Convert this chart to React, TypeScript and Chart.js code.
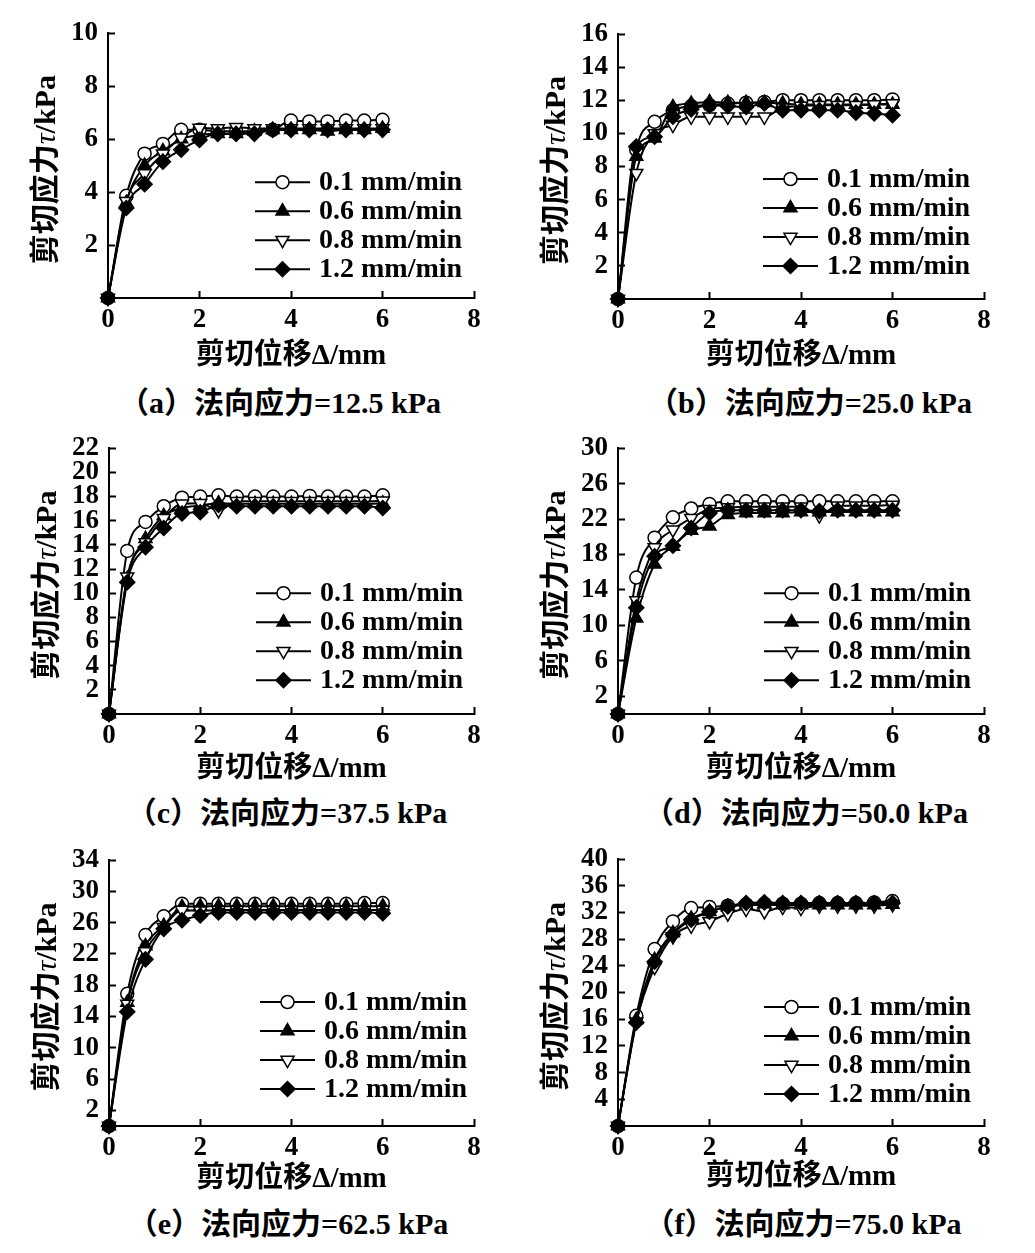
import React, { useEffect, useRef } from "react";
import { Chart, registerables } from "chart.js";
import { drawPoint } from "chart.js/helpers";

Chart.register(...registerables);

// ---------------- data ----------------
const displacement = [0, 0.4, 0.8, 1.2, 1.6, 2.0, 2.4, 2.8, 3.2, 3.6, 4.0, 4.4, 4.8, 5.2, 5.6, 6.0];
const rateLabels = ["0.1 mm/min", "0.6 mm/min", "0.8 mm/min", "1.2 mm/min"];
const xTicks = [0, 2, 4, 6, 8];

const yTicksA = [2, 4, 6, 8, 10];
const yTicksB = [2, 4, 6, 8, 10, 12, 14, 16];
const yTicksC = [2, 4, 6, 8, 10, 12, 14, 16, 18, 20, 22];
const yTicksD = [2, 6, 10, 14, 18, 22, 26, 30];
const yTicksE = [2, 6, 10, 14, 18, 22, 26, 30, 34];
const yTicksF = [4, 8, 12, 16, 20, 24, 28, 32, 36, 40];

// (a) 12.5 kPa
const tauA01 = [0, 3.86, 5.45, 5.82, 6.35, 6.35, 6.3, 6.3, 6.3, 6.35, 6.7, 6.67, 6.67, 6.7, 6.7, 6.73];
const tauA06 = [0, 3.6, 5.0, 5.55, 6.0, 6.15, 6.2, 6.2, 6.3, 6.35, 6.35, 6.35, 6.3, 6.35, 6.35, 6.4];
const tauA08 = [0, 3.65, 4.7, 5.45, 6.05, 6.42, 6.4, 6.45, 6.4, 6.4, 6.4, 6.4, 6.4, 6.4, 6.4, 6.4];
const tauA12 = [0, 3.4, 4.3, 5.15, 5.6, 5.97, 6.2, 6.2, 6.2, 6.35, 6.35, 6.35, 6.35, 6.35, 6.35, 6.35];
// (b) 25.0 kPa
const tauB01 = [0, 9.0, 10.7, 11.4, 11.65, 11.7, 11.8, 11.85, 11.9, 12.0, 12.0, 12.0, 12.0, 12.0, 12.0, 12.05];
const tauB06 = [0, 8.6, 9.7, 11.6, 11.8, 11.9, 11.85, 11.85, 11.85, 11.8, 11.75, 11.75, 11.75, 11.75, 11.75, 11.75];
const tauB08 = [0, 7.6, 10.0, 10.5, 11.0, 11.0, 11.0, 11.0, 11.0, 11.55, 11.65, 11.7, 11.7, 11.7, 11.75, 11.8];
const tauB12 = [0, 9.2, 9.8, 11.0, 11.45, 11.7, 11.65, 11.6, 11.8, 11.4, 11.4, 11.4, 11.4, 11.25, 11.2, 11.1];
// (c) 37.5 kPa
const tauC01 = [0, 13.5, 15.9, 17.2, 17.9, 18.0, 18.1, 18.0, 18.0, 18.0, 18.0, 18.05, 18.0, 18.0, 18.0, 18.1];
const tauC06 = [0, 11.2, 14.5, 16.4, 17.05, 17.25, 17.45, 17.4, 17.4, 17.4, 17.4, 17.4, 17.4, 17.4, 17.4, 17.45];
const tauC08 = [0, 11.35, 14.2, 16.2, 17.4, 17.45, 16.85, 17.6, 17.6, 17.6, 17.6, 17.6, 17.6, 17.6, 17.6, 17.65];
const tauC12 = [0, 10.9, 13.8, 15.4, 16.6, 16.7, 17.3, 17.2, 17.2, 17.2, 17.2, 17.2, 17.2, 17.2, 17.2, 17.05];
// (d) 50.0 kPa
const tauD01 = [0, 15.4, 19.9, 22.2, 23.2, 23.7, 24.0, 24.0, 24.0, 24.0, 24.0, 24.0, 24.0, 24.0, 24.0, 24.0];
const tauD06 = [0, 10.8, 16.9, 18.9, 20.7, 21.2, 22.5, 22.7, 22.7, 22.7, 22.8, 22.8, 22.8, 22.8, 22.8, 22.8];
const tauD08 = [0, 12.8, 18.8, 20.8, 22.1, 23.1, 23.3, 23.4, 23.4, 23.4, 23.4, 22.4, 23.5, 23.5, 23.5, 23.6];
const tauD12 = [0, 12.0, 17.8, 19.0, 21.0, 22.7, 23.0, 23.0, 23.0, 23.0, 23.0, 22.9, 23.0, 23.0, 23.0, 23.0];
// (e) 62.5 kPa
const tauE01 = [0, 16.9, 24.4, 26.8, 28.4, 28.4, 28.4, 28.4, 28.4, 28.4, 28.4, 28.4, 28.4, 28.4, 28.5, 28.5];
const tauE06 = [0, 15.8, 23.0, 25.6, 28.0, 28.1, 28.1, 28.1, 28.1, 28.1, 28.1, 28.1, 28.1, 28.1, 28.1, 28.1];
const tauE08 = [0, 15.6, 22.3, 25.4, 27.6, 27.5, 27.6, 27.6, 27.6, 27.6, 27.6, 27.6, 27.6, 27.6, 27.6, 27.6];
const tauE12 = [0, 14.6, 21.3, 25.2, 26.3, 26.9, 27.3, 27.3, 27.3, 27.3, 27.3, 27.3, 27.3, 27.3, 27.3, 27.2];
// (f) 75.0 kPa
const tauF01 = [0, 16.5, 26.5, 30.65, 32.65, 32.8, 33.0, 33.2, 33.3, 33.3, 33.3, 33.4, 33.4, 33.4, 33.5, 33.7];
const tauF06 = [0, 15.9, 24.9, 28.9, 31.1, 32.1, 32.8, 33.1, 33.1, 33.1, 33.1, 33.1, 33.1, 33.1, 33.1, 33.2];
const tauF08 = [0, 15.6, 23.8, 28.4, 30.0, 30.65, 31.8, 32.5, 32.15, 32.8, 32.65, 33.0, 33.0, 33.0, 33.0, 33.2];
const tauF12 = [0, 15.5, 24.6, 28.7, 30.9, 32.1, 32.9, 33.4, 33.5, 33.4, 33.4, 33.4, 33.4, 33.4, 33.4, 33.4];

const xTitle = "剪切位移Δ/mm";
const yTitleParts = ["剪切应力", "τ", "/kPa"];
const captions = [
  "（a）法向应力=12.5 kPa",
  "（b）法向应力=25.0 kPa",
  "（c）法向应力=37.5 kPa",
  "（d）法向应力=50.0 kPa",
  "（e）法向应力=62.5 kPa",
  "（f）法向应力=75.0 kPa",
];

// ---------------- styles ----------------
const FONT = '"Liberation Serif", "Noto Sans CJK SC", serif';
const markerStyles = [
  { pointStyle: "circle", fill: "#ffffff", radius: 6.5, rotation: 0 },
  { pointStyle: "triangle", fill: "#000000", radius: 7.5, rotation: 0 },
  { pointStyle: "triangle", fill: "#ffffff", radius: 7.5, rotation: 180 },
  { pointStyle: "rectRot", fill: "#000000", radius: 7.5, rotation: 0 },
];

type PanelCfg = {
  series: number[][];
  yMax: number;
  yTicks: number[];
  caption: string;
  canvasLeft: number;
  canvasTop: number;
  canvasWidth: number;
  L: number; T: number; R: number; B: number;
  xTitleDy: number;
  capX: number; capY: number;
  legDx: number; legDy: number;
};

const X_SCALE_H = 80;
const X_TITLE_SIZE = 29;
const Y_TITLE_SIZE = 30;

const panels: PanelCfg[] = [
  { series: [tauA01, tauA06, tauA08, tauA12], yMax: 10, yTicks: yTicksA, caption: captions[0],
    canvasLeft: 0, canvasTop: 0, canvasWidth: 517, L: 108, T: 33, R: 474, B: 298, xTitleDy: 59,
    capX: 280, capY: 403, legDx: 147, legDy: 149 },
  { series: [tauB01, tauB06, tauB08, tauB12], yMax: 16, yTicks: yTicksB, caption: captions[1],
    canvasLeft: 517, canvasTop: 0, canvasWidth: 518, L: 618, T: 34, R: 984, B: 299, xTitleDy: 58,
    capX: 810, capY: 403, legDx: 145, legDy: 145 },
  { series: [tauC01, tauC06, tauC08, tauC12], yMax: 22, yTicks: yTicksC, caption: captions[2],
    canvasLeft: 0, canvasTop: 415, canvasWidth: 517, L: 109, T: 447, R: 474, B: 714, xTitleDy: 56,
    capX: 287, capY: 813, legDx: 147, legDy: 145 },
  { series: [tauD01, tauD06, tauD08, tauD12], yMax: 30, yTicks: yTicksD, caption: captions[3],
    canvasLeft: 517, canvasTop: 415, canvasWidth: 518, L: 618, T: 447, R: 984, B: 714, xTitleDy: 56,
    capX: 806, capY: 813, legDx: 146, legDy: 145 },
  { series: [tauE01, tauE06, tauE08, tauE12], yMax: 34, yTicks: yTicksE, caption: captions[4],
    canvasLeft: 0, canvasTop: 825, canvasWidth: 517, L: 109, T: 860, R: 474, B: 1126, xTitleDy: 54,
    capX: 288, capY: 1224, legDx: 151, legDy: 142 },
  { series: [tauF01, tauF06, tauF08, tauF12], yMax: 40, yTicks: yTicksF, caption: captions[5],
    canvasLeft: 517, canvasTop: 825, canvasWidth: 518, L: 618, T: 859, R: 984, B: 1126, xTitleDy: 52,
    capX: 803, capY: 1224, legDx: 146, legDy: 148 },
];

const insideLegend = {
  id: "insideLegend",
  afterDatasetsDraw(chart: any, _args: any, opts: any) {
    const { ctx, chartArea } = chart;
    const x1 = chartArea.left + opts.dx;
    const len = 55;
    chart.data.datasets.forEach((ds: any, i: number) => {
      const y = chartArea.top + opts.dy + i * 29;
      ctx.save();
      ctx.strokeStyle = "#000";
      ctx.lineWidth = 2;
      ctx.beginPath();
      ctx.moveTo(x1, y);
      ctx.lineTo(x1 + len, y);
      ctx.stroke();
      ctx.fillStyle = ds.pointBackgroundColor;
      ctx.strokeStyle = "#000";
      ctx.lineWidth = ds.pointBorderWidth;
      drawPoint(ctx, {
        pointStyle: ds.pointStyle,
        radius: ds.pointRadius,
        rotation: ds.pointRotation,
        borderWidth: ds.pointBorderWidth,
      } as any, x1 + len / 2, y);
      ctx.fillStyle = "#000";
      ctx.font = `bold 28px ${FONT}`;
      ctx.textAlign = "left";
      ctx.textBaseline = "middle";
      ctx.fillText(ds.label, x1 + len + 9, y + 1);
      ctx.restore();
    });
  },
};

// y-axis title drawn in pieces so that τ can be italic
const yAxisTitle = {
  id: "yAxisTitle",
  afterDraw(chart: any) {
    const { ctx, chartArea } = chart;
    const cx = chartArea.left - 61;
    const cy = (chartArea.top + chartArea.bottom) / 2 + 4;
    const fonts = [
      `bold ${Y_TITLE_SIZE}px ${FONT}`,
      `italic ${Y_TITLE_SIZE}px ${FONT}`,
      `bold ${Y_TITLE_SIZE}px ${FONT}`,
    ];
    ctx.save();
    ctx.translate(cx, cy);
    ctx.rotate(-Math.PI / 2);
    ctx.fillStyle = "#000";
    ctx.textBaseline = "middle";
    ctx.textAlign = "left";
    const widths = yTitleParts.map((t, i) => {
      ctx.font = fonts[i];
      return ctx.measureText(t).width;
    });
    const total = widths.reduce((a, b) => a + b, 0);
    let x = -total / 2;
    yTitleParts.forEach((t, i) => {
      ctx.font = fonts[i];
      ctx.fillText(t, x, 0);
      x += widths[i];
    });
    ctx.restore();
  },
};

function Panel({ cfg }: { cfg: PanelCfg }) {
  const ref = useRef<HTMLCanvasElement | null>(null);
  const ch = cfg.B - cfg.canvasTop + X_SCALE_H;
  useEffect(() => {
    if (!ref.current) return;
    const titleFont = { family: FONT, size: X_TITLE_SIZE, weight: "bold" as const, lineHeight: 1.2 };
    const datasets = cfg.series.map((vals, i) => ({
      label: rateLabels[i],
      data: vals.map((v, k) => ({ x: displacement[k], y: v })),
      order: 3 - i,
      borderColor: "#000",
      borderWidth: 2,
      pointStyle: markerStyles[i].pointStyle,
      pointRadius: markerStyles[i].radius,
      pointRotation: markerStyles[i].rotation,
      pointBackgroundColor: markerStyles[i].fill,
      pointBorderColor: "#000",
      pointBorderWidth: 1.5,
      cubicInterpolationMode: "monotone" as const,
      fill: false,
      clip: false,
    }));
    const chart = new Chart(ref.current, {
      type: "line",
      data: { datasets },
      plugins: [insideLegend as any, yAxisTitle as any],
      options: {
        animation: false,
        responsive: false,
        devicePixelRatio: 1,
        events: [],
        layout: {
          padding: {
            left: 0,
            top: cfg.T - cfg.canvasTop,
            right: cfg.canvasLeft + cfg.canvasWidth - cfg.R,
            bottom: 0,
          },
        },
        plugins: {
          legend: { display: false },
          tooltip: { enabled: false },
          insideLegend: { dx: cfg.legDx, dy: cfg.legDy },
        } as any,
        scales: {
          x: {
            type: "linear",
            min: 0,
            max: 8,
            afterBuildTicks: (s: any) => { s.ticks = xTicks.map((v) => ({ value: v })); },
            afterFit: (s: any) => { s.height = X_SCALE_H; },
            border: { display: true, color: "#000", width: 2 },
            grid: { display: true, drawOnChartArea: false, drawTicks: true, tickLength: -7, tickWidth: 2, tickColor: "#000" },
            ticks: { color: "#000", font: { family: FONT, size: 27, weight: "bold" }, padding: 13, maxRotation: 0, autoSkip: false },
            title: {
              display: true, text: xTitle, color: "#000", font: titleFont,
              padding: { top: 0, bottom: X_SCALE_H - cfg.xTitleDy - (X_TITLE_SIZE * 1.2) / 2 },
            },
          },
          y: {
            type: "linear",
            min: 0,
            max: cfg.yMax,
            afterBuildTicks: (s: any) => { s.ticks = cfg.yTicks.map((v) => ({ value: v })); },
            afterFit: (s: any) => { s.width = cfg.L - cfg.canvasLeft; },
            border: { display: true, color: "#000", width: 2 },
            grid: { display: true, drawOnChartArea: false, drawTicks: true, tickLength: -7, tickWidth: 2, tickColor: "#000" },
            ticks: { color: "#000", font: { family: FONT, size: 27, weight: "bold" }, padding: 17, autoSkip: false },
            title: { display: false },
          },
        },
      } as any,
    });
    return () => chart.destroy();
  }, [cfg]);
  return (
    <>
      <canvas
        ref={ref}
        width={cfg.canvasWidth}
        height={ch}
        style={{ position: "absolute", left: cfg.canvasLeft, top: cfg.canvasTop, width: cfg.canvasWidth, height: ch }}
      />
      <div
        style={{
          position: "absolute",
          left: cfg.capX - 250,
          top: cfg.capY - 18,
          width: 500,
          height: 36,
          lineHeight: "36px",
          textAlign: "center",
          fontFamily: FONT,
          fontWeight: "bold",
          fontSize: 30,
          color: "#000",
          whiteSpace: "nowrap",
        }}
      >
        {cfg.caption}
      </div>
    </>
  );
}

export default function App() {
  return (
    <div style={{ position: "absolute", left: 0, top: 0, width: 1035, height: 1253, background: "#fff", overflow: "hidden" }}>
      {panels.map((p, i) => (
        <Panel key={i} cfg={p} />
      ))}
    </div>
  );
}
